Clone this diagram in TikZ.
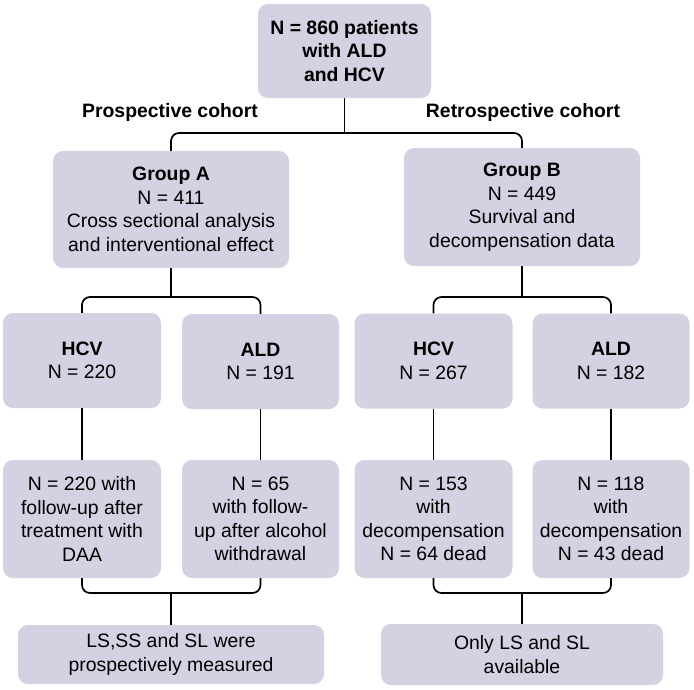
\documentclass[tikz,border=0pt]{standalone}
\usepackage{fontspec}
\setmainfont{Liberation Sans}
\definecolor{boxfill}{RGB}{213,209,227}
\begin{document}
\begin{tikzpicture}[x=1pt,y=-1pt,
  box/.style={fill=boxfill, draw=none, rounded corners=10pt, align=center, inner sep=0pt,
    font=\fontsize{19.4}{23.5}\selectfont},
  lbl/.style={font=\fontsize{19.4}{23.5}\selectfont\bfseries, inner sep=0pt},
  conn/.style={line width=1.7pt, rounded corners=8pt}]
\useasboundingbox (0,0) rectangle (694,689);
\fill[white] (0,0) rectangle (694,689);
% boxes
\node[box, minimum width=173pt, minimum height=94pt] (top) at (344.5,51) {\bfseries N = 860 patients\\\bfseries with ALD\\\bfseries and HCV};
\node[box, minimum width=236pt, minimum height=117pt] (gA) at (171,209.5) {\bfseries Group A\\N = 411\\Cross sectional analysis\\and interventional effect};
\node[box, minimum width=236pt, minimum height=118pt] (gB) at (522,207) {\bfseries Group B\\N = 449\\Survival and\\decompensation data};
\node[box, minimum width=158pt, minimum height=95pt] (hcvA) at (82,360.5) {\bfseries HCV\\N = 220};
\node[box, minimum width=157pt, minimum height=95pt] (aldA) at (260.5,361.5) {\bfseries ALD\\N = 191};
\node[box, minimum width=158pt, minimum height=95pt] (hcvB) at (433.5,361) {\bfseries HCV\\N = 267};
\node[box, minimum width=157pt, minimum height=95pt] (aldB) at (611,361) {\bfseries ALD\\N = 182};
\node[box, minimum width=158pt, minimum height=118pt] (fA1) at (82,519) {N = 220 with\\follow-up after\\treatment with\\DAA};
\node[box, minimum width=157pt, minimum height=118pt] (fA2) at (260.5,519) {N = 65\\with follow-\\up after alcohol\\withdrawal};
\node[box, minimum width=158pt, minimum height=118pt] (fB1) at (433.5,519) {N = 153\\with\\decompensation\\N = 64 dead};
\node[box, minimum width=157pt, minimum height=118pt] (fB2) at (611,519) {N = 118\\with\\decompensation\\N = 43 dead};
\node[box, minimum width=306pt, minimum height=59pt] (botA) at (171,654.5) {LS,SS and SL were\\prospectively measured};
\node[box, minimum width=282pt, minimum height=61pt] (botB) at (522,654.5) {Only LS and SL\\available};
% labels
\node[lbl] (pro) at (170,112) {Prospective cohort};
\node[lbl] (retro) at (523,112) {Retrospective cohort};
% junctions
\coordinate (j1) at (344.5,133);
\coordinate (j2) at (171,297);
\coordinate (j3) at (522,297);
\coordinate (j4) at (171,593);
\coordinate (j5) at (522,593);
% connectors
\draw[conn] (top.south) -- (j1);
\draw[conn] (gA.north) |- (j1) -| (gB.north);
\draw[conn] (gA.south) -- (j2);
\draw[conn] (hcvA.north) |- (j2) -| (aldA.north);
\draw[conn] (gB.south) -- (j3);
\draw[conn] (hcvB.north) |- (j3) -| (aldB.north);
\draw[conn] (hcvA.south) -- (fA1.north);
\draw[conn] (aldA.south) -- (fA2.north);
\draw[conn] (hcvB.south) -- (fB1.north);
\draw[conn] (aldB.south) -- (fB2.north);
\draw[conn] (fA1.south) |- (j4) -| (fA2.south);
\draw[conn] (j4) -- (botA.north);
\draw[conn] (fB1.south) |- (j5) -| (fB2.south);
\draw[conn] (j5) -- (botB.north);
\end{tikzpicture}
\end{document}
